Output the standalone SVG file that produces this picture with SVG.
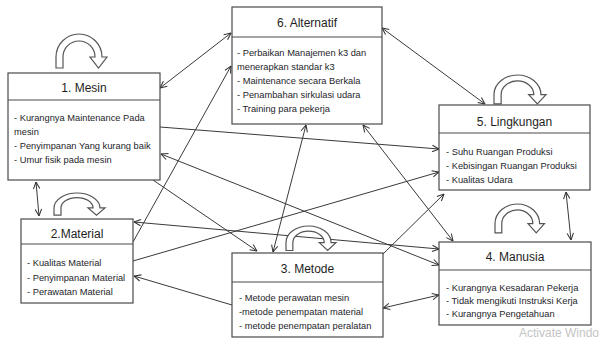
<svg xmlns="http://www.w3.org/2000/svg" xmlns:xlink="http://www.w3.org/1999/xlink" width="603" height="340" viewBox="0 0 603 340">
<style>
.box{fill:#fff;stroke:#4a4a4a;stroke-width:1.2}
.div{stroke:#4a4a4a;stroke-width:1.2}
.title{font-family:"Liberation Sans",Arial,sans-serif;font-size:12px;fill:#1e1e1e;text-anchor:middle}
.body{font-family:"Liberation Sans",Arial,sans-serif;font-size:9.3px;fill:#1e1e2a}
.con{fill:none;stroke:#3a3a3a;stroke-width:1}
.loop{fill:#fff;stroke:#555;stroke-width:1.2}
.wm{font-family:"Liberation Sans",Arial,sans-serif;font-size:12px;fill:#c4c4c4}
</style>
<defs>
<marker id="ah" viewBox="0 0 10 10" refX="9.5" refY="5" markerWidth="8" markerHeight="8" orient="auto-start-reverse" markerUnits="userSpaceOnUse">
<path d="M1,1 L9.5,5 L1,9" fill="none" stroke="#333" stroke-width="1.3"/>
</marker>
<path id="loopShape" d="M0,34 L0,23 A23,23 0 0 1 46,23 L51,23 L42.5,34 L34,23 L39,23 A16,16 0 0 0 7,23 L7,34 Z" vector-effect="non-scaling-stroke"/>
</defs>
<rect width="603" height="340" fill="#fff"/>

<g id="connectors">
<line class="con" x1="160" y1="88" x2="231" y2="33" marker-start="url(#ah)" marker-end="url(#ah)"/>
<line class="con" x1="133" y1="242" x2="231" y2="66" marker-end="url(#ah)"/>
<line class="con" x1="273" y1="252" x2="306" y2="125" marker-start="url(#ah)" marker-end="url(#ah)"/>
<line class="con" x1="363" y1="125" x2="453" y2="241" marker-start="url(#ah)" marker-end="url(#ah)"/>
<line class="con" x1="382" y1="28" x2="485" y2="104" marker-start="url(#ah)" marker-end="url(#ah)"/>
<line class="con" x1="160" y1="127" x2="439" y2="149" marker-end="url(#ah)"/>
<line class="con" x1="161" y1="154" x2="439" y2="265" marker-start="url(#ah)" marker-end="url(#ah)"/>
<line class="con" x1="153" y1="180" x2="257" y2="251" marker-end="url(#ah)"/>
<line class="con" x1="134" y1="222" x2="439" y2="249" marker-start="url(#ah)" marker-end="url(#ah)"/>
<line class="con" x1="133" y1="261" x2="439" y2="172" marker-end="url(#ah)"/>
<line class="con" x1="383" y1="254" x2="444" y2="194" marker-end="url(#ah)"/>
<line class="con" x1="383" y1="308" x2="439" y2="295" marker-start="url(#ah)" marker-end="url(#ah)"/>
<line class="con" x1="232" y1="305" x2="134" y2="276" marker-end="url(#ah)"/>
<line class="con" x1="36" y1="182" x2="39" y2="216" marker-start="url(#ah)" marker-end="url(#ah)"/>
<line class="con" x1="566" y1="192" x2="571" y2="240" marker-start="url(#ah)" marker-end="url(#ah)"/>
</g>

<g id="loops">
<use xlink:href="#loopShape" href="#loopShape" class="loop" transform="translate(56,34)"/>
<use xlink:href="#loopShape" href="#loopShape" class="loop" transform="translate(54,193) scale(1,0.65)"/>
<use xlink:href="#loopShape" href="#loopShape" class="loop" transform="translate(494,75) scale(1.02,0.85)"/>
<use xlink:href="#loopShape" href="#loopShape" class="loop" transform="translate(495,204) scale(0.97,0.85)"/>
<use xlink:href="#loopShape" href="#loopShape" class="loop" transform="translate(286,226) scale(0.98,0.72)"/>
</g>

<g id="mesin">
<rect class="box" x="8" y="73" width="152" height="107"/>
<line class="div" x1="8" y1="100" x2="160" y2="100"/>
<text class="title" x="84" y="92">1. Mesin</text>
<text class="body" x="14" y="121">- Kurangnya Maintenance Pada</text>
<text class="body" x="14" y="135">mesin</text>
<text class="body" x="14" y="149">- Penyimpanan Yang kurang baik</text>
<text class="body" x="14" y="163">- Umur fisik pada mesin</text>
</g>

<g id="material">
<rect class="box" x="21" y="219" width="112" height="84"/>
<line class="div" x1="21" y1="244" x2="133" y2="244"/>
<text class="title" x="77" y="237.5">2.Material</text>
<text class="body" x="27" y="266">- Kualitas Material</text>
<text class="body" x="27" y="281">- Penyimpanan Material</text>
<text class="body" x="27" y="294.5">- Perawatan Material</text>
</g>

<g id="alternatif">
<rect class="box" x="232" y="7" width="150" height="117"/>
<line class="div" x1="232" y1="37" x2="382" y2="37"/>
<text class="title" x="307" y="26.5">6. Alternatif</text>
<text class="body" x="237" y="56">- Perbaikan Manajemen k3 dan</text>
<text class="body" x="237" y="69.5">menerapkan standar k3</text>
<text class="body" x="237" y="83.5">- Maintenance secara Berkala</text>
<text class="body" x="237" y="97.5">- Penambahan sirkulasi udara</text>
<text class="body" x="237" y="111.5">- Training para pekerja</text>
</g>

<g id="lingkungan">
<rect class="box" x="439" y="105" width="151" height="85"/>
<line class="div" x1="439" y1="133" x2="590" y2="133"/>
<text class="title" x="514.5" y="125.5">5. Lingkungan</text>
<text class="body" x="446" y="154.5">- Suhu Ruangan Produksi</text>
<text class="body" x="446" y="168.5">- Kebisingan Ruangan Produksi</text>
<text class="body" x="446" y="182.5">- Kualitas Udara</text>
</g>

<g id="manusia">
<rect class="box" x="439" y="242" width="152" height="83"/>
<line class="div" x1="439" y1="270" x2="591" y2="270"/>
<text class="title" x="515" y="260.5">4. Manusia</text>
<text class="body" x="446" y="290.5">- Kurangnya Kesadaran Pekerja</text>
<text class="body" x="446" y="303.5">- Tidak mengikuti Instruksi Kerja</text>
<text class="body" x="446" y="316.5">- Kurangnya Pengetahuan</text>
</g>

<g id="metode">
<rect class="box" x="232" y="253" width="151" height="84"/>
<line class="div" x1="232" y1="282" x2="383" y2="282"/>
<text class="title" x="307.5" y="272.5">3. Metode</text>
<text class="body" x="239" y="300.5">- Metode perawatan mesin</text>
<text class="body" x="239" y="314.5">-metode penempatan material</text>
<text class="body" x="239" y="329">- metode penempatan peralatan</text>
</g>

<text class="wm" x="519" y="337">Activate Windo</text>
</svg>
